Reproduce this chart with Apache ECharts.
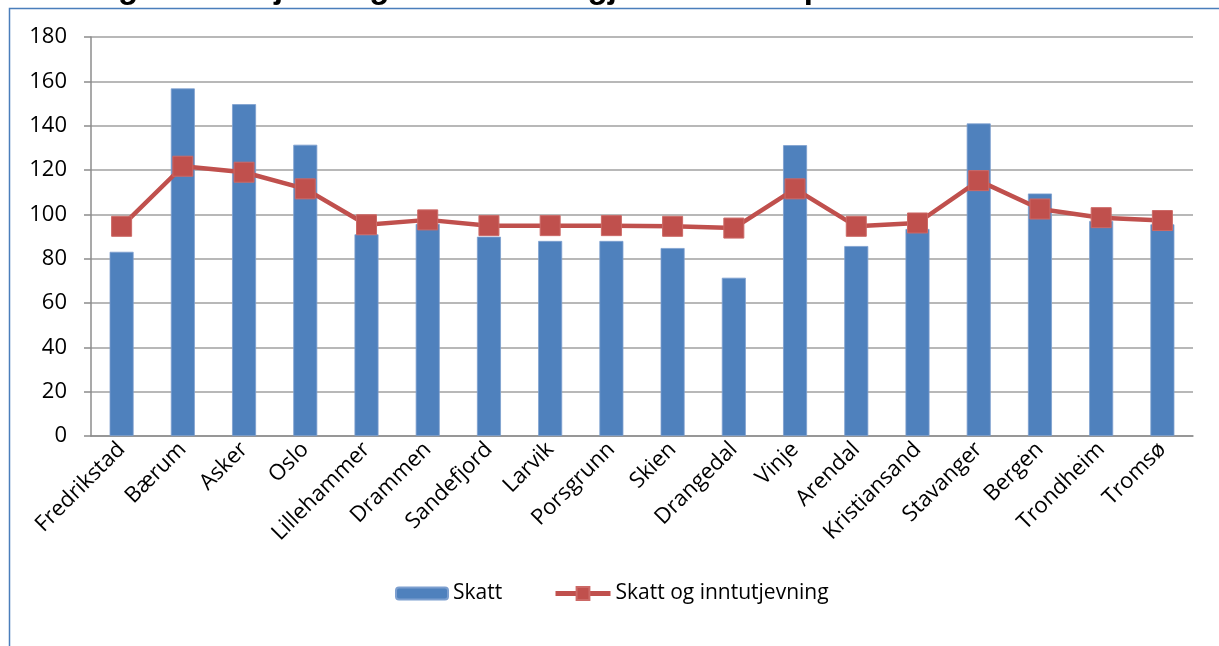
<!DOCTYPE html>
<html>
<head>
<meta charset="utf-8">
<script src="https://cdn.jsdelivr.net/npm/echarts@6/dist/echarts.min.js"></script>
<style>
  html, body { margin: 0; padding: 0; background: #fff; }
  #main { width: 1219px; height: 646px; }
</style>
</head>
<body>
<div id="main"></div>
<script>
// data
var kommuner = ["Fredrikstad", "Bærum", "Asker", "Oslo", "Lillehammer", "Drammen",
  "Sandefjord", "Larvik", "Porsgrunn", "Skien", "Drangedal", "Vinje", "Arendal",
  "Kristiansand", "Stavanger", "Bergen", "Trondheim", "Tromsø"];
var skatt = [83.1, 156.8, 149.7, 131.4, 91, 95.7, 89.9, 88, 88, 84.8, 71.4, 131.2,
  85.7, 93.4, 141, 109.4, 97, 95.5];
var skattOgUtjevning = [94.6, 121.7, 119, 111.5, 95.3, 97.5, 94.9, 94.9, 94.9, 94.6,
  93.8, 111.5, 94.6, 96.1, 115.2, 102.4, 98.5, 97.2];

void (function() {
  var myChart = echarts.init(document.getElementById("main"));
  var font = "'Open Sans', 'Liberation Sans', sans-serif";

  var option = {
    animation: false,
    textStyle: { fontFamily: font },
    graphic: [
      {
        type: "rect",
        shape: { x: 9.5, y: 8.5, width: 1300, height: 700 },
        style: { fill: null, stroke: "#4a7ebb", lineWidth: 1.5 }
      },
      {
        // title, mostly cut off at the top edge
        type: "text",
        x: 8,
        y: -28,
        style: {
          text: "Skatt og skatteutjevning i % av landsgjennomsnitt per kommune",
          font: "bold 33px 'Liberation Sans', sans-serif",
          fill: "#000",
          verticalAlign: "top"
        }
      }
    ],
    grid: { left: 91, right: 26, top: 37, bottom: 210 },
    legend: [
      {
        data: ["Skatt"],
        left: 395,
        top: 583,
        padding: 0,
        itemWidth: 52,
        itemHeight: 12,
        textStyle: { fontSize: 21, color: "#000", fontFamily: font }
      },
      {
        data: ["Skatt og inntutjevning"],
        left: 553,
        top: 583,
        padding: 0,
        itemWidth: 55,
        itemHeight: 16,
        lineStyle: { width: 5, color: "#c0504d" },
        textStyle: { fontSize: 21, color: "#000", fontFamily: font }
      }
    ],
    xAxis: {
      type: "category",
      data: kommuner,
      axisLine: { lineStyle: { color: "#8c8c8c", width: 1.5 } },
      axisTick: { length: 7, lineStyle: { color: "#8c8c8c", width: 1.5 } },
      axisLabel: {
        rotate: 45,
        interval: 0,
        fontSize: 22,
        color: "#000",
        margin: 10
      }
    },
    yAxis: {
      type: "value",
      min: 0,
      max: 180,
      interval: 20,
      axisLine: { show: true, lineStyle: { color: "#8c8c8c", width: 1.5 } },
      axisTick: { show: true, length: 7, lineStyle: { color: "#8c8c8c", width: 1.5 } },
      axisLabel: { fontSize: 22, color: "#000", margin: 24 },
      splitLine: { lineStyle: { color: "#a0a0a0", width: 1.5 } }
    },
    series: [
      {
        name: "Skatt",
        type: "bar",
        data: skatt,
        barWidth: 24,
        itemStyle: { color: "#4f81bd", borderColor: "#7d9fcf", borderWidth: 0.8 }
      },
      {
        name: "Skatt og inntutjevning",
        type: "line",
        data: skattOgUtjevning,
        symbol: "rect",
        symbolSize: 20,
        lineStyle: { color: "#c0504d", width: 4.5 },
        itemStyle: { color: "#c0504d", borderColor: "#cc6966", borderWidth: 1 }
      }
    ]
  };

  myChart.setOption(option);
})();
</script>
</body>
</html>
